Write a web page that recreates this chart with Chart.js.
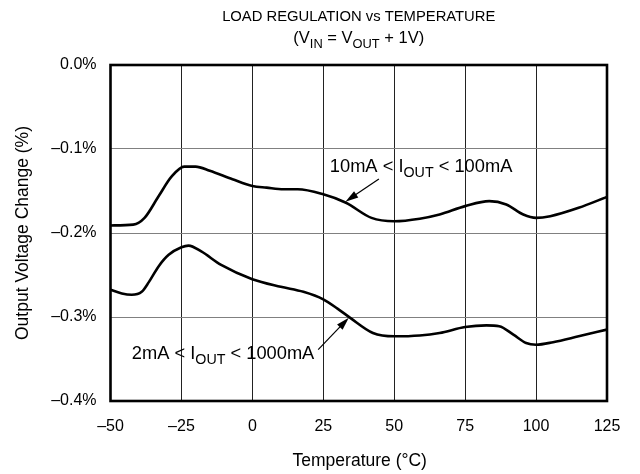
<!DOCTYPE html>
<html><head><meta charset="utf-8">
<script src="https://cdn.jsdelivr.net/npm/chart.js@4.4.1/dist/chart.umd.min.js"></script>
<style>html,body{margin:0;padding:0;background:#fff}#wrap{width:640px;height:474px;position:relative}</style>
</head><body><div id="wrap"><canvas id="c"></canvas></div>
<script>
// ---- data ----
const temp10mA = [-50, -42, -38, -33, -28.5, -24, -20, -15, -7, 0, 5, 11, 16, 25, 33, 42, 50, 59, 66, 75, 83.5, 89.5, 95.5, 100, 105, 115, 125];
const change10mA = [-0.191, -0.190, -0.182, -0.156, -0.133, -0.121, -0.121, -0.126, -0.136, -0.144, -0.146, -0.148, -0.148, -0.154, -0.164, -0.182, -0.186, -0.183, -0.178, -0.168, -0.162, -0.166, -0.178, -0.182, -0.180, -0.170, -0.157];
const temp2mA = [-50, -46, -42.5, -39, -36.5, -33, -29.5, -25, -22.5, -18, -11, 0, 10, 18, 25, 30, 34.5, 42.5, 50, 59, 66, 75, 82.5, 87, 92, 96.5, 100, 106, 115, 125];
const change2mA = [-0.2675, -0.272, -0.2735, -0.270, -0.2585, -0.2395, -0.226, -0.217, -0.215, -0.222, -0.238, -0.255, -0.264, -0.270, -0.279, -0.290, -0.301, -0.319, -0.323, -0.322, -0.319, -0.312, -0.310, -0.311, -0.321, -0.331, -0.333, -0.330, -0.323, -0.315];
const xTickLabels = ['–50', '–25', '0', '25', '50', '75', '100', '125'];
const yTickLabels = ['–0.4%', '–0.3%', '–0.2%', '–0.1%', '0.0%'];

const FONT = "'Liberation Sans', Arial, Helvetica, sans-serif";

function toXY(xs, ys) { return xs.map((x, i) => ({ x: x, y: ys[i] })); }

// rich text: parts [{t, sub}]
function drawRich(ctx, parts, x, y, size, align) {
  const subSize = size * 0.78;
  let total = 0;
  parts.forEach(p => {
    ctx.font = (p.sub ? subSize : size) + 'px ' + FONT;
    p.w = ctx.measureText(p.t).width;
    total += p.w;
  });
  let cx = align === 'center' ? x - total / 2 : x;
  ctx.textAlign = 'left';
  ctx.textBaseline = 'alphabetic';
  parts.forEach(p => {
    ctx.font = (p.sub ? subSize : size) + 'px ' + FONT;
    ctx.fillText(p.t, cx, p.sub ? y + size * 0.28 : y);
    cx += p.w;
  });
}

function arrow(ctx, x1, y1, x2, y2) {
  const ang = Math.atan2(y2 - y1, x2 - x1);
  const L = 13, W = 3.8;
  ctx.strokeStyle = '#000';
  ctx.lineWidth = 1.2;
  ctx.beginPath();
  ctx.moveTo(x1, y1);
  ctx.lineTo(x2 - Math.cos(ang) * L * 0.8, y2 - Math.sin(ang) * L * 0.8);
  ctx.stroke();
  ctx.fillStyle = '#000';
  ctx.beginPath();
  ctx.moveTo(x2, y2);
  ctx.lineTo(x2 - Math.cos(ang) * L - Math.sin(ang) * W, y2 - Math.sin(ang) * L + Math.cos(ang) * W);
  ctx.lineTo(x2 - Math.cos(ang) * L + Math.sin(ang) * W, y2 - Math.sin(ang) * L - Math.cos(ang) * W);
  ctx.closePath();
  ctx.fill();
}

const decor = {
  id: 'decor',
  afterDatasetsDraw(chart) {
    const ctx = chart.ctx, a = chart.chartArea;
    const xs = chart.scales.x, ys = chart.scales.y;
    ctx.save();
    // frame
    ctx.strokeStyle = '#000';
    ctx.lineWidth = 2.6;
    ctx.strokeRect(a.left, a.top, a.right - a.left, a.bottom - a.top);
    ctx.fillStyle = '#000';
    const cx = (a.left + a.right) / 2;
    // titles
    drawRich(ctx, [{ t: 'LOAD REGULATION vs TEMPERATURE' }], cx, 21, 14.8, 'center');
    drawRich(ctx, [{ t: '(V' }, { t: 'IN', sub: true }, { t: ' = V' }, { t: 'OUT', sub: true }, { t: ' + 1V)' }], cx, 43, 16.5, 'center');
    // axis titles
    drawRich(ctx, [{ t: 'Temperature (°C)' }], cx + 1, 465.5, 17.5, 'center');
    ctx.save();
    ctx.translate(28, (a.top + a.bottom) / 2);
    ctx.rotate(-Math.PI / 2);
    drawRich(ctx, [{ t: 'Output Voltage Change (%)' }], 0, 0, 17.5, 'center');
    ctx.restore();
    // annotations
    const P = (t, v) => [xs.getPixelForValue(t), ys.getPixelForValue(v)];
    let p = P(27.3, -0.1274);
    drawRich(ctx, [{ t: '10mA < I' }, { t: 'OUT', sub: true }, { t: ' < 100mA' }], p[0], p[1], 18.3, 'left');
    let t1 = P(44.6, -0.1357), h1 = P(32.8, -0.1627);
    arrow(ctx, t1[0], t1[1], h1[0], h1[1]);
    p = P(-42.5, -0.3496);
    drawRich(ctx, [{ t: '2mA < I' }, { t: 'OUT', sub: true }, { t: ' < 1000mA' }], p[0], p[1], 18.3, 'left');
    let t2 = P(23.2, -0.3389), h2 = P(34.0, -0.3008);
    arrow(ctx, t2[0], t2[1], h2[0], h2[1]);
    ctx.restore();
  }
};

new Chart(document.getElementById('c'), {
  type: 'line',
  data: {
    datasets: [
      { label: '10mA < IOUT < 100mA', data: toXY(temp10mA, change10mA), borderColor: '#000', borderWidth: 2.6, pointRadius: 0, cubicInterpolationMode: 'monotone', fill: false },
      { label: '2mA < IOUT < 1000mA', data: toXY(temp2mA, change2mA), borderColor: '#000', borderWidth: 2.6, pointRadius: 0, cubicInterpolationMode: 'monotone', fill: false }
    ]
  },
  options: {
    responsive: true,
    maintainAspectRatio: false,
    animation: false,
    layout: { padding: { top: 65, right: 33, left: 0, bottom: 0 } },
    plugins: { legend: { display: false }, tooltip: { enabled: false }, title: { display: false } },
    scales: {
      x: {
        type: 'linear', min: -50, max: 125,
        afterFit(s) { s.height = 73; },
        ticks: { stepSize: 25, color: '#000', padding: 16, font: { family: FONT, size: 16 }, maxRotation: 0,
          callback: (v, i) => xTickLabels[i] },
        grid: { color: '#222', lineWidth: 1, drawTicks: false },
        border: { display: false }
      },
      y: {
        type: 'linear', min: -0.4, max: 0,
        afterFit(s) { s.width = 110.5; },
        ticks: { stepSize: 0.1, color: '#000', padding: 14, font: { family: FONT, size: 16 },
          callback: (v, i) => yTickLabels[i] },
        grid: { color: '#808080', lineWidth: 1, drawTicks: false },
        border: { display: false }
      }
    }
  },
  plugins: [decor]
});
</script>
</body></html>
